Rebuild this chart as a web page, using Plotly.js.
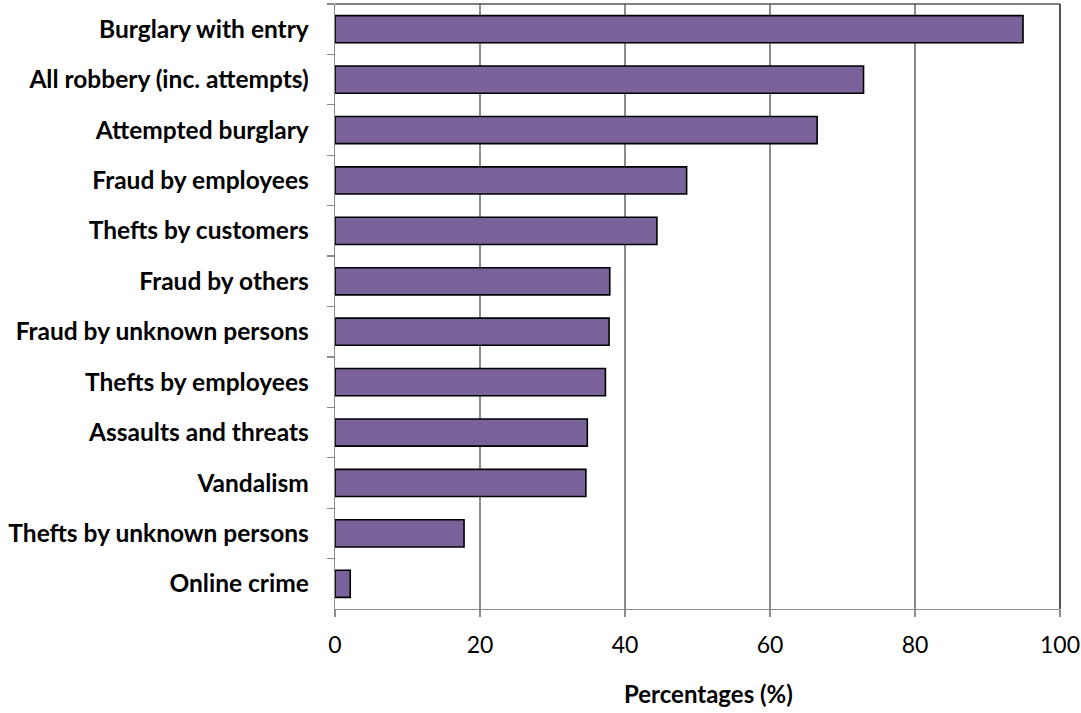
<!DOCTYPE html>
<html>
<head>
<meta charset="utf-8">
<script src="https://cdn.plot.ly/plotly-3.0.1.min.js"></script>
<style>html,body{margin:0;padding:0;background:#fff;}#chart{width:1081px;height:713px;}</style>
</head>
<body>
<div id="chart"></div>
<script>
const categories = [
  "Burglary with entry",
  "All robbery (inc. attempts)",
  "Attempted burglary",
  "Fraud by employees",
  "Thefts by customers",
  "Fraud by others",
  "Fraud by unknown persons",
  "Thefts by employees",
  "Assaults and threats",
  "Vandalism",
  "Thefts by unknown persons",
  "Online crime"
];
const percentages = [94.9, 72.9, 66.5, 48.5, 44.4, 37.9, 37.8, 37.3, 34.8, 34.6, 17.8, 2.1];
const xTicks = [0, 20, 40, 60, 80, 100];
const xTitle = 'Percentages (%)';

const trace = {
  type: 'bar',
  orientation: 'h',
  y: categories,
  x: percentages,
  marker: {color: '#7A629A', line: {color: '#000000', width: 1.6}},
  hoverinfo: 'x+y'
};

const layout = {
  width: 1081, height: 713,
  margin: {l: 335, r: 21, t: 4, b: 104},
  paper_bgcolor: '#ffffff', plot_bgcolor: '#ffffff',
  showlegend: false,
  bargap: 0.46,
  font: {family: 'Lato, "Open Sans", sans-serif', color: '#000'},
  xaxis: {
    range: [0, 100],
    tickvals: xTicks,
    ticktext: xTicks.map(String),
    showgrid: true, gridcolor: '#8c8c8c', gridwidth: 1.3,
    zeroline: false,
    showline: true, linecolor: '#8c8c8c', linewidth: 1.3,
    ticks: 'outside', ticklen: 7, tickcolor: '#8c8c8c', tickwidth: 1.3,
    ticklabelstandoff: 8,
    tickfont: {size: 23, family: 'Lato, sans-serif', color: '#000'},
    title: {text: ''},
    automargin: false,
    fixedrange: true
  },
  yaxis: {
    type: 'category',
    autorange: 'reversed',
    showgrid: false, zeroline: false,
    showline: true, linecolor: '#8c8c8c', linewidth: 1.3,
    ticks: 'outside', ticklen: 7, tickcolor: '#8c8c8c', tickwidth: 1.3,
    tickson: 'boundaries',
    ticklabelstandoff: 20,
    tickfont: {size: 24.5, family: 'Lato, sans-serif', color: '#000', weight: 'bold'},
    automargin: false,
    fixedrange: true
  },
  annotations: [
    {text: '<b>' + xTitle + '</b>', xref: 'paper', yref: 'paper', x: 0.5145, y: -0.139,
     xanchor: 'center', yanchor: 'middle', showarrow: false,
     font: {size: 24, family: 'Lato, sans-serif', color: '#000'}}
  ],
  shapes: [
    {type: 'line', xref: 'paper', yref: 'paper', x0: 1, x1: 1, y0: 0, y1: 1, line: {color: '#262626', width: 1.6}},
    {type: 'line', xref: 'paper', yref: 'paper', x0: 0, x1: 1, y0: 1, y1: 1, line: {color: '#555555', width: 1.3}}
  ]
};

Plotly.newPlot('chart', [trace], layout, {displayModeBar: false, staticPlot: true});
</script>
</body>
</html>
